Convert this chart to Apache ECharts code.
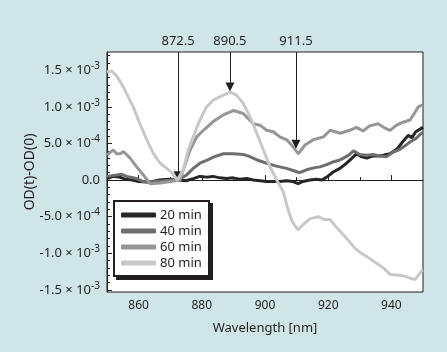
<!DOCTYPE html>
<html>
<head>
<meta charset="utf-8">
<script src="https://cdn.jsdelivr.net/npm/echarts@6/dist/echarts.min.js"></script>
<style>
  html, body { margin: 0; padding: 0; background: #cfe5e7; }
  #chart { width: 447px; height: 352px; }
</style>
</head>
<body>
<div id="chart"></div>
<script>
// values in units of 1e-3
const series20 = [[850,0.02],[852,0.05],[854,0.04],[856,0.01],[858,0],[860,-0.02],[863.5,-0.03],[866.5,0],[869.5,0.01],[872.5,0],[875,-0.01],[877.3,0.02],[879.4,0.05],[881.5,0.04],[883.6,0.05],[885.7,0.03],[887.8,0.02],[889.9,0.03],[892,0.01],[894.2,0.02],[896.3,0],[898.4,-0.01],[900.5,-0.02],[902.6,-0.02],[904.7,-0.02],[906.8,-0.01],[908.9,-0.02],[910.5,-0.05],[912,-0.02],[914.2,0],[916.3,0.01],[918,0],[919.5,0.04],[921.6,0.11],[923.7,0.16],[925.8,0.23],[927.3,0.29],[929,0.36],[930.5,0.32],[932.2,0.3],[934.2,0.33],[936.3,0.33],[937.4,0.34],[939.5,0.36],[941.7,0.42],[943.7,0.53],[945.3,0.61],[946.5,0.58],[947.7,0.66],[949.6,0.71],[950,0.72]];
const series40 = [[850,0.05],[853.1,0.07],[854.5,0.08],[856.2,0.05],[859.4,0.02],[861.5,-0.02],[864.6,-0.02],[867.8,-0.01],[870.5,0],[872.5,0],[875.2,0.07],[877.3,0.16],[879.4,0.23],[881.5,0.27],[884.1,0.32],[886.8,0.36],[889.9,0.36],[893.1,0.35],[895.2,0.32],[897.8,0.27],[900.5,0.23],[903.6,0.19],[906.8,0.16],[908.9,0.13],[911,0.1],[913.1,0.14],[915.8,0.17],[917.4,0.18],[919.5,0.21],[921.6,0.25],[923.5,0.27],[924.8,0.3],[926.5,0.34],[928,0.4],[930,0.35],[932.2,0.34],[934.2,0.35],[936.3,0.33],[938.5,0.32],[940.5,0.38],[942.7,0.42],[944.7,0.48],[945.9,0.52],[947.5,0.56],[949.6,0.64],[950,0.65]];
const series60 = [[850,0.34],[851,0.38],[852,0.41],[853,0.36],[854.2,0.36],[855.2,0.39],[857.3,0.3],[859.4,0.18],[861.5,0.07],[863.6,-0.05],[866.8,-0.04],[870,-0.02],[873.1,0],[874.6,0.2],[876.3,0.41],[878.4,0.59],[880.5,0.68],[883.6,0.8],[886.8,0.89],[890,0.95],[893.1,0.91],[896.3,0.77],[898.4,0.75],[900.5,0.68],[902.6,0.66],[904.7,0.59],[906.9,0.55],[908.4,0.48],[910.5,0.36],[912.7,0.48],[915.3,0.55],[918.5,0.59],[920.6,0.68],[923.8,0.64],[926.8,0.68],[929,0.72],[931,0.67],[933.1,0.74],[935.8,0.77],[937.9,0.71],[939.6,0.68],[941.6,0.75],[943.7,0.79],[945.9,0.82],[947.4,0.92],[948.5,1.0],[950,1.03]];
const series80 = [[850,1.48],[851.5,1.49],[853.1,1.42],[855.2,1.27],[856.8,1.13],[858.3,1.0],[860.4,0.77],[862.6,0.55],[864.7,0.36],[866.8,0.23],[868.9,0.16],[870.5,0.1],[872.3,0],[874.1,0.14],[875.7,0.41],[877.3,0.59],[879.4,0.82],[881.5,1.0],[883.6,1.09],[885.8,1.14],[887.9,1.18],[888.8,1.2],[889.5,1.19],[891,1.16],[893.1,1.05],[895.3,0.86],[897.4,0.64],[899.5,0.41],[901.6,0.18],[903.7,0],[905.8,-0.16],[907,-0.36],[908.4,-0.55],[910.3,-0.68],[912.1,-0.61],[914.2,-0.53],[916.8,-0.5],[918.9,-0.54],[920.6,-0.54],[922.1,-0.62],[924.2,-0.72],[926.9,-0.85],[928.4,-0.93],[930.5,-1.0],[932.4,-1.05],[934.7,-1.12],[937.4,-1.2],[939.6,-1.29],[942.6,-1.3],[944.8,-1.32],[945.8,-1.34],[947.5,-1.36],[949.6,-1.24],[950,-1.23]];

const seriesNames = ['20 min', '40 min', '60 min', '80 min'];
const seriesColors = ['#262626', '#6e6e6e', '#969696', '#c8c8c8'];

const arrowLabels = ['872.5', '890.5', '911.5'];
const arrowX = [872.5, 888.9, 909.8];
const arrowTip = [0.06, 1.27, 0.49];

const xMajor = [860, 880, 900, 920, 940];
const xMinor = [870, 890, 910, 930];
const yMajor = [-1.5, -1.0, -0.5, 0, 0.5, 1.0, 1.5];
const yMinor = [];
for (let i = -14; i <= 17; i++) if (i % 5 !== 0) yMinor.push(i / 10);

const font = "'Noto Sans', sans-serif";
const ink = '#231f20';

const yFmt = v => {
  if (Math.abs(v) < 1e-9) return '{b|0.0}';
  const a = Math.abs(v);
  const mant = a >= 0.99 ? v.toFixed(1) : (v * 10).toFixed(1);
  const exp = a >= 0.99 ? '-3' : '-4';
  return '{b|' + mant + ' × 10}{s|' + exp + '}';
};

const xBase = {
  type: 'value', min: 850, max: 950, gridIndex: 0, position: 'bottom',
  splitLine: { show: false }
};
const yBase = {
  type: 'value', min: -1.53, max: 1.75, gridIndex: 0, position: 'left',
  splitLine: { show: false }
};

const lines = [series20, series40, series60, series80].map((d, i) => ({
  name: seriesNames[i],
  type: 'line',
  data: d,
  showSymbol: false,
  symbol: 'none',
  color: seriesColors[i],
  lineStyle: { width: 3, color: seriesColors[i] },
  z: 2 + i
}));

lines.push({
  name: 'arrows',
  type: 'line',
  data: [],
  z: 10,
  markLine: {
    silent: true,
    animation: false,
    symbol: ['none', 'triangle'],
    symbolSize: 9,
    lineStyle: { color: ink, width: 1, type: 'solid' },
    itemStyle: { color: ink },
    label: {
      show: true, position: 'start', distance: 4,
      color: ink, fontSize: 13, fontFamily: font,
      formatter: p => p.name
    },
    data: arrowX.map((x, i) => [
      { name: arrowLabels[i], coord: [x, 1.75] },
      { coord: [x, arrowTip[i]] }
    ])
  }
});

const chart = echarts.init(document.getElementById('chart'), null, { renderer: 'canvas' });
chart.setOption({
  backgroundColor: '#cfe5e7',
  animation: false,
  textStyle: { fontFamily: font, color: ink },
  grid: {
    left: 107, right: 24, top: 52, bottom: 60,
    show: true, backgroundColor: '#ffffff', borderColor: ink, borderWidth: 1
  },
  graphic: [
    { type: 'rect', z: 50, shape: { x: 116, y: 203, width: 97, height: 77 }, style: { fill: ink } },
    { type: 'rect', z: 51, shape: { x: 114, y: 201, width: 95, height: 75 }, style: { fill: '#ffffff', stroke: ink, lineWidth: 2 } }
  ],
  legend: {
    data: seriesNames,
    orient: 'vertical',
    left: 113, top: 200,
    z: 60,
    icon: 'roundRect',
    itemWidth: 35, itemHeight: 5,
    itemGap: 2,
    padding: [8, 10, 7, 8],
    textStyle: { fontSize: 13, color: ink, fontFamily: font, lineHeight: 14, padding: [0, 0, 0, -1] },
    selectedMode: false
  },
  xAxis: [
    Object.assign({}, xBase, {
      name: 'Wavelength [nm]', nameLocation: 'middle', nameGap: 30, nameMoveOverlap: false,
      nameTextStyle: { fontSize: 13, color: ink, fontFamily: font },
      axisLine: { lineStyle: { color: ink, width: 1 } },
      axisTick: { inside: true, length: 5, customValues: xMajor, lineStyle: { color: ink } },
      axisLabel: { customValues: xMajor, margin: 8, fontSize: 12, color: ink, fontFamily: font }
    }),
    Object.assign({}, xBase, {
      axisLine: { show: false },
      axisTick: { inside: true, length: 3, customValues: xMinor, lineStyle: { color: ink } },
      axisLabel: { show: false }
    })
  ],
  yAxis: [
    Object.assign({}, yBase, {
      name: 'OD(t)-OD(0)', nameLocation: 'middle', nameGap: 70, nameMoveOverlap: false,
      nameTextStyle: { fontSize: 14, color: ink, fontFamily: font },
      axisLine: { show: true, lineStyle: { color: ink, width: 1 } },
      axisTick: { show: true, inside: true, length: 5, customValues: yMajor, lineStyle: { color: ink } },
      axisLabel: {
        customValues: yMajor, margin: 7, formatter: yFmt,
        rich: {
          b: { fontSize: 13, color: ink, fontFamily: font, lineHeight: 18 },
          s: { fontSize: 10, color: ink, fontFamily: font, verticalAlign: 'top' }
        }
      }
    }),
    Object.assign({}, yBase, {
      axisLine: { show: false },
      axisTick: { show: true, inside: true, length: 3, customValues: yMinor, lineStyle: { color: ink } },
      axisLabel: { show: false }
    })
  ],
  series: lines
});
</script>
</body>
</html>
